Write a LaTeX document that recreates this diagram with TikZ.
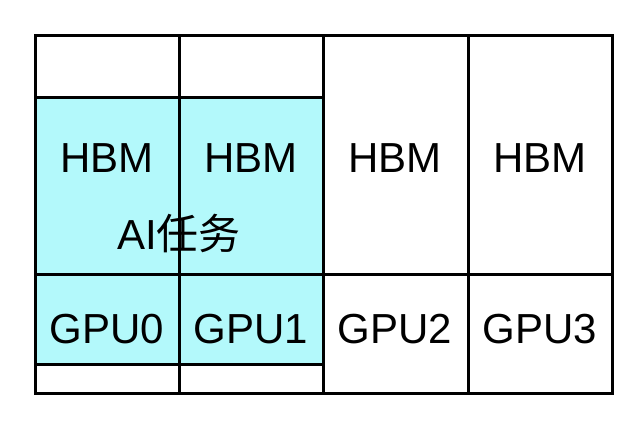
\documentclass[tikz,border=0pt]{standalone}
\usepackage{fontspec}
\setmainfont{Liberation Sans}
\newfontfamily\cjkfont{Noto Sans CJK SC}
\usepackage{xcolor}
\usepackage{tikz}
\definecolor{taskcyan}{RGB}{179, 249, 251}

\begin{document}
\begin{tikzpicture}[x=1pt, y=-1pt, line width=3pt,
    lbl/.style={font=\fontsize{42}{46}\selectfont, inner sep=0pt}]
    \useasboundingbox (0,0) rectangle (642,422);

    % AI task area over GPU0 and GPU1
    \fill[taskcyan] (35,98) rectangle (323,364);

    % Grid
    \draw (35,36) rectangle (612,393);
    \foreach \x in {179,323,468} {
        \draw (\x,36) -- (\x,393);
    }
    \draw (35,274) -- (612,274);
    \draw (35,98) -- (323,98);
    \draw (35,364) -- (323,364);

    % Labels
    \node[lbl] (hbm0) at (107,158) {HBM};
    \node[lbl] (hbm1) at (251,158) {HBM};
    \node[lbl] (hbm2) at (395,158) {HBM};
    \node[lbl] (hbm3) at (540,158) {HBM};
    \node[lbl] (gpu0) at (107,329) {GPU0};
    \node[lbl] (gpu1) at (251,329) {GPU1};
    \node[lbl] (gpu2) at (395,329) {GPU2};
    \node[lbl] (gpu3) at (540,329) {GPU3};
    \node[lbl] (task) at (179,234) {AI{\cjkfont 任务}};
\end{tikzpicture}
\end{document}
